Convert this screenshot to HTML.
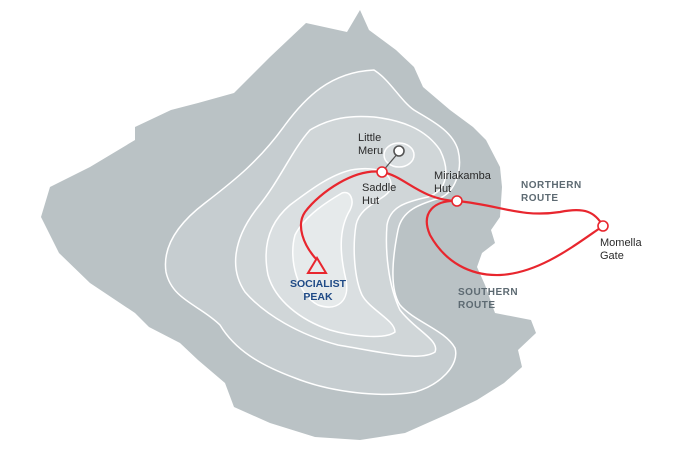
<!DOCTYPE html>
<html><head><meta charset="utf-8"><style>
html,body{margin:0;padding:0;background:#fff;}
svg{display:block;}
text{font-family:"Liberation Sans",sans-serif;}
</style></head><body>
<svg width="700" height="450" viewBox="0 0 700 450" xmlns="http://www.w3.org/2000/svg">
<path fill="#bac2c5" d="M360,10 L369,30 L396,50 L414,67 L423,87 L450,110 L473,127 L486,140 L500,167 L502,187 L500,217 L491,230 L495,243 L482,253 L477,267 L485,285 L495,313 L531,320 L536,333 L518,350 L522,367 L504,383 L477,400 L450,413 L405,433 L360,440 L315,437 L270,423 L234,407 L225,383 L198,360 L180,343 L149,327 L135,313 L90,283 L59,253 L41,217 L50,187 L90,167 L135,140 L135,127 L171,110 L198,103 L234,93 L270,57 L306,23 L347,32 Z"/>
<path fill="#c6cdd0" stroke="#fff" stroke-width="1.5" d="M374,70 C390,80 400,100 414,110 C430,120 452,130 458,150 C463,170 455,192 440,198 C420,204 402,210 398,230 C392,260 390,290 400,305 C415,322 445,330 455,348 C460,365 440,385 415,392 C380,398 330,392 295,378 C260,365 235,350 220,325 C200,305 172,300 166,272 C162,245 180,222 205,203 C235,180 260,160 285,125 C305,98 330,72 374,70 Z"/>
<path fill="#d0d6d8" stroke="#fff" stroke-width="1.5" d="M374,117 C400,120 425,128 440,150 C450,170 448,190 428,197 C405,202 390,207 387,225 C385,250 388,285 400,310 C415,330 440,340 435,352 C420,362 380,352 338,345 C300,335 265,315 245,292 C230,270 232,240 258,207 C280,180 292,150 310,130 C330,118 350,115 374,117 Z"/>
<path fill="#dadfe1" stroke="#fff" stroke-width="1.5" d="M351,170 C380,165 395,175 390,190 C385,200 360,205 356,225 C352,250 355,280 362,295 C370,310 395,320 395,332 C385,340 350,336 330,330 C300,320 275,300 268,275 C262,245 270,222 290,205 C310,190 330,175 351,170 Z"/>
<path fill="#e6eaeb" stroke="#fff" stroke-width="1.5" d="M342,193 C330,200 305,215 295,235 C288,260 298,295 318,305 C338,312 350,300 346,280 C340,255 338,230 350,210 C355,200 350,190 342,193 Z"/>
<ellipse cx="399" cy="155" rx="15" ry="12" fill="#dadfe1" stroke="#fff" stroke-width="1.5"/>
<line x1="382" y1="172" x2="399" y2="152" stroke="#555" stroke-width="1.3"/>
<g fill="none" stroke="#e8262e" stroke-width="2.2">
<path d="M317,260 C303,245 296,225 305,212 C320,192 355,168 382,172 C405,176 420,200 457,201"/>
<path d="M457,201 C500,205 520,218 560,212 C585,207 595,212 603,226"/>
<path d="M457,201 C435,200 420,212 430,235 C445,262 470,276 500,275 C540,273 575,245 603,226"/>
</g>
<polygon points="317,258 308,273 326,273" fill="none" stroke="#e8262e" stroke-width="2"/>
<g fill="#fff" stroke-width="1.6">
<circle cx="399" cy="151" r="5" stroke="#555"/>
<circle cx="382" cy="172" r="5" stroke="#e8262e"/>
<circle cx="457" cy="201" r="5" stroke="#e8262e"/>
<circle cx="603" cy="226" r="5" stroke="#e8262e"/>
</g>
<g font-size="11" fill="#2a2a2a">
<text x="358" y="141">Little</text><text x="358" y="154">Meru</text>
<text x="362" y="191">Saddle</text><text x="362" y="204">Hut</text>
<text x="434" y="179">Miriakamba</text><text x="434" y="192">Hut</text>
<text x="600" y="246">Momella</text><text x="600" y="259">Gate</text>
</g>
<g font-size="10" font-weight="bold" fill="#5d6a72" letter-spacing="0.5">
<text x="521" y="188">NORTHERN</text><text x="521" y="201">ROUTE</text>
<text x="458" y="295">SOUTHERN</text><text x="458" y="308">ROUTE</text>
</g>
<g font-size="10.5" font-weight="bold" fill="#1f4a86" text-anchor="middle">
<text x="318" y="287">SOCIALIST</text><text x="318" y="300">PEAK</text>
</g>
</svg>
</body></html>
